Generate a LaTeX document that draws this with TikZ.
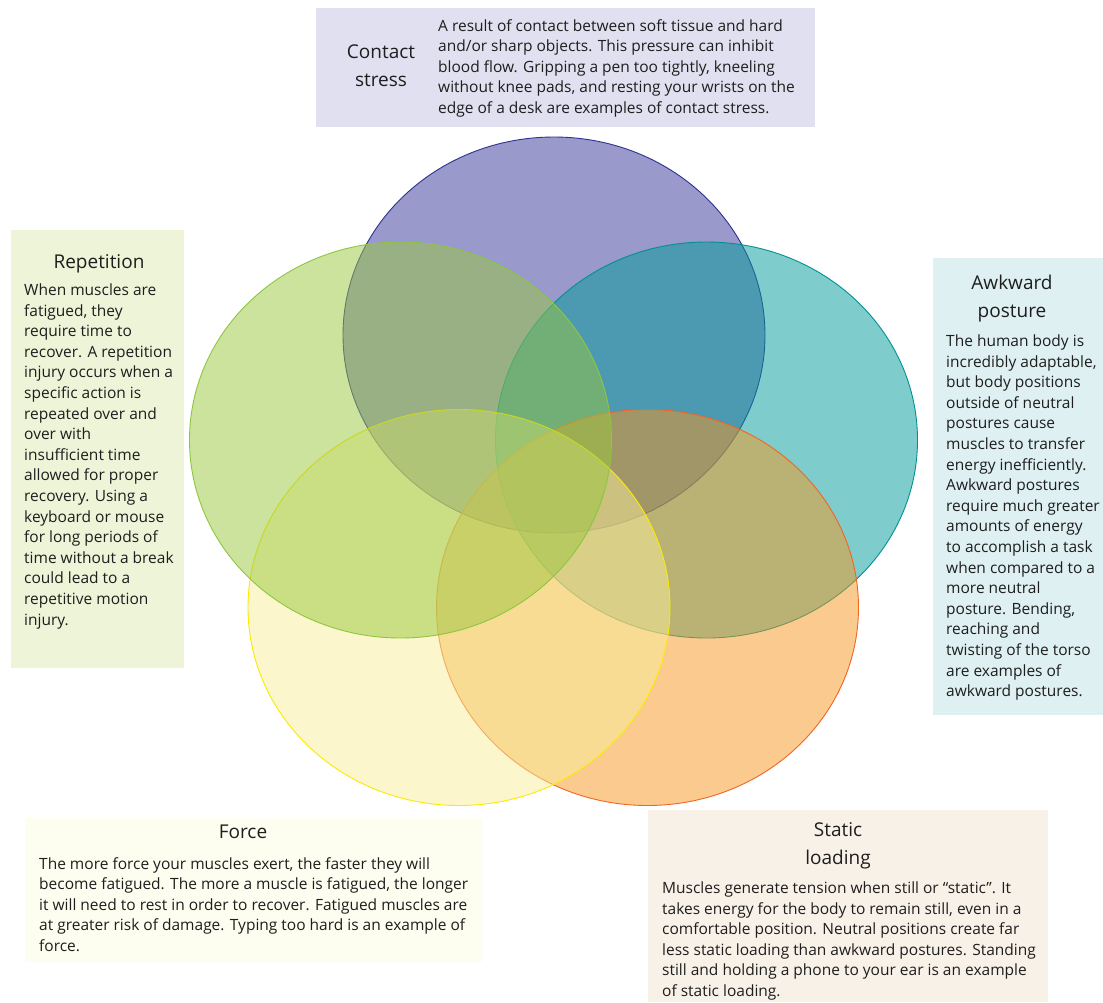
\documentclass[tikz,border=0pt]{standalone}
\usepackage{fontspec}
\setmainfont{Open Sans}
\usetikzlibrary{positioning}

\definecolor{contactC}{RGB}{51,51,153}
\definecolor{contactS}{RGB}{46,49,146}
\definecolor{awkwardC}{RGB}{0,153,153}
\definecolor{awkwardS}{RGB}{0,145,150}
\definecolor{staticC}{RGB}{245,150,30}
\definecolor{staticS}{RGB}{242,101,34}
\definecolor{forceC}{RGB}{249,237,153}
\definecolor{forceS}{RGB}{250,235,0}
\definecolor{repC}{RGB}{153,199,61}
\definecolor{repS}{RGB}{141,198,63}
\definecolor{contactBox}{RGB}{224,224,240}
\definecolor{repBox}{RGB}{238,244,216}
\definecolor{awkwardBox}{RGB}{222,240,241}
\definecolor{forceBox}{RGB}{253,253,240}
\definecolor{staticBox}{RGB}{248,241,232}
\definecolor{txt}{RGB}{30,30,30}

\tikzset{
  blob/.style={fill opacity=0.5, line width=0.9pt},
  title/.style={font=\fontsize{19}{28}\selectfont, text=txt, align=center, inner sep=0pt, anchor=center},
  body/.style={font=\fontsize{15.5}{20.6}\selectfont, text=txt, align=left, inner sep=0pt, anchor=north west}
}

\begin{document}
\begin{tikzpicture}[x=1pt,y=-1pt]
\useasboundingbox (0,0) rectangle (1103,1002);

% text boxes
\fill[contactBox] (316,8) rectangle (815,127);
\fill[repBox] (11,230) rectangle (184,668);
\fill[awkwardBox] (933,258) rectangle (1103,715);
\fill[forceBox] (25,818) rectangle (482,962);
\fill[staticBox] (648,810) rectangle (1048,1002);

% the five circles
\draw[blob, fill=contactC, draw=contactS] (554,335) ellipse [x radius=211pt, y radius=198pt];
\draw[blob, fill=awkwardC, draw=awkwardS] (706.5,440) ellipse [x radius=211pt, y radius=198pt];
\draw[blob, fill=staticC, draw=staticS] (647.5,607.5) ellipse [x radius=211pt, y radius=198pt];
\draw[blob, fill=forceC, draw=forceS] (459,607.5) ellipse [x radius=211pt, y radius=198pt];
\draw[blob, fill=repC, draw=repS] (400.5,440) ellipse [x radius=211pt, y radius=198pt];

% labels
\node[title] (contactT) at (381,66) {Contact\\stress};
\node[body] (contactB) at (438,19) {A result of contact between soft tissue and hard\\
and/or sharp objects. This pressure can inhibit\\
blood flow. Gripping a pen too tightly, kneeling\\
without knee pads, and resting your wrists on the\\
edge of a desk are examples of contact stress.};

\node[title] (repT) at (99,264) {Repetition};
\node[body] (repB) at (24,283.5) {When muscles are\\
fatigued, they\\
require time to\\
recover. A repetition\\
injury occurs when a\\
specific action is\\
repeated over and\\
over with\\
insufficient time\\
allowed for proper\\
recovery. Using a\\
keyboard or mouse\\
for long periods of\\
time without a break\\
could lead to a\\
repetitive motion\\
injury.};

\node[title] (awkT) at (1012,298.5) {Awkward\\posture};
\node[body] (awkB) at (946,334.5) {The human body is\\
incredibly adaptable,\\
but body positions\\
outside of neutral\\
postures cause\\
muscles to transfer\\
energy inefficiently.\\
Awkward postures\\
require much greater\\
amounts of energy\\
to accomplish a task\\
when compared to a\\
more neutral\\
posture. Bending,\\
reaching and\\
twisting of the torso\\
are examples of\\
awkward postures.};

\node[title] (forceT) at (243,832) {Force};
\node[body] (forceB) at (39,857) {The more force your muscles exert, the faster they will\\
become fatigued. The more a muscle is fatigued, the longer\\
it will need to rest in order to recover. Fatigued muscles are\\
at greater risk of damage. Typing too hard is an example of\\
force.};

\node[title] (staticT) at (838,846) {Static\\loading};
\node[body] (staticB) at (662,881.5) {Muscles generate tension when still or “static”.  It\\
takes energy for the body to remain still, even in a\\
comfortable position. Neutral positions create far\\
less static loading than awkward postures. Standing\\
still and holding a phone to your ear is an example\\
of static loading.};

\end{tikzpicture}
\end{document}
